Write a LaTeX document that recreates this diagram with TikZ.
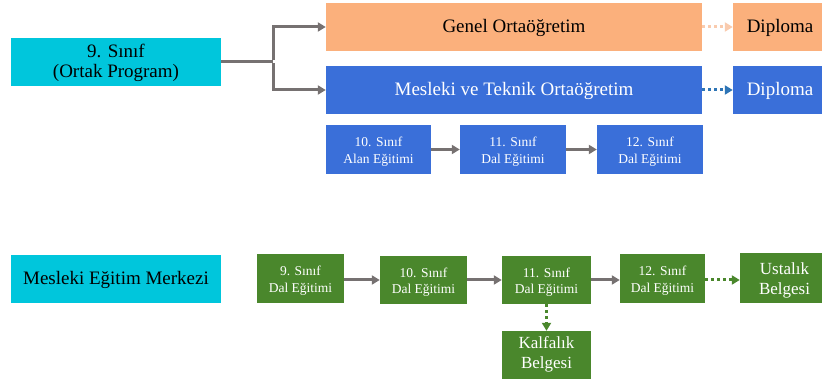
\documentclass[tikz,border=0pt]{standalone}
\usepackage{fontspec}
\setmainfont{Liberation Serif}
\usetikzlibrary{arrows.meta}
\definecolor{cyanbox}{HTML}{00C6DC}
\definecolor{orangebox}{HTML}{FBB07C}
\definecolor{bluebox}{HTML}{3A6FD9}
\definecolor{greenbox}{HTML}{4A872C}
\definecolor{greyline}{HTML}{767171}
\definecolor{orangedot}{HTML}{F9CBAE}
\definecolor{bluedot}{HTML}{2E75B6}
\tikzset{
  box/.style={rectangle, inner sep=0pt, align=center, draw=none},
  % single line, 19pt
  big/.style={font=\fontsize{19}{20}\selectfont, text height=16pt, text depth=4pt},
  % two lines, 19pt (box baseline is the last line)
  bigtwo/.style={font=\fontsize{19}{20}\selectfont, text height=34.6pt, text depth=4pt},
  % two lines, 13.5pt
  small/.style={font=\fontsize{13.5}{16.5}\selectfont, text height=30.9pt, text depth=3.5pt},
  % two lines, 17pt
  mid/.style={font=\fontsize{17}{20.5}\selectfont, text height=37.6pt, text depth=4pt},
  cyanfill/.style={box, fill=cyanbox, text=black},
  orangefill/.style={box, fill=orangebox, text=black},
  bluefill/.style={box, fill=bluebox, text=white},
  greenfill/.style={box, fill=greenbox, text=white},
  garrow/.style={draw=greyline, line width=3pt, -{Triangle[length=8pt,width=9pt]}},
  gline/.style={draw=greyline, line width=3pt},
  darrow/.style={line width=3pt, dash pattern=on 3pt off 3pt, -{Triangle[length=8pt,width=9pt]}},
}
\begin{document}
\begin{tikzpicture}[x=1pt,y=-1pt]
\useasboundingbox (0,0) rectangle (822,379);

% upper part: general and vocational secondary education
\node[cyanfill, bigtwo, minimum width=210pt, minimum height=48pt] (s9) at (116,62) {9. Sınıf\\(Ortak Program)};
\node[orangefill, big, minimum width=376pt, minimum height=48pt] (gen) at (514,27) {Genel Ortaöğretim};
\node[orangefill, big, minimum width=94pt, minimum height=48pt] (dip1) at (780,27) {Diploma};
\node[bluefill, big, minimum width=376pt, minimum height=48pt] (mtk) at (514,90) {Mesleki ve Teknik Ortaöğretim};
\node[bluefill, big, minimum width=94pt, minimum height=48pt] (dip2) at (780,90) {Diploma};

\node[bluefill, small, minimum width=105pt, minimum height=49pt] (a10) at (378.5,149.5) {10. Sınıf\\Alan Eğitimi};
\node[bluefill, small, minimum width=106pt, minimum height=49pt] (a11) at (513,149.5) {11. Sınıf\\Dal Eğitimi};
\node[bluefill, small, minimum width=106pt, minimum height=49pt] (a12) at (650,149.5) {12. Sınıf\\Dal Eğitimi};

\coordinate (br) at (273,62);
\draw[gline] (s9.east) -- (br);
\draw[garrow] ([yshift=1.5pt]br) |- (gen.west);
\draw[garrow] ([yshift=-1.5pt]br) |- (mtk.west);
\draw[darrow, draw=orangedot] (gen.east) -- (dip1.west);
\draw[darrow, draw=bluedot] (mtk.east) -- (dip2.west);
\draw[garrow] (a10.east) -- (a11.west);
\draw[garrow] (a11.east) -- (a12.west);

% lower part: vocational training centre
\node[cyanfill, big, minimum width=210pt, minimum height=48pt] (mem) at (116,279) {Mesleki Eğitim Merkezi};
\node[greenfill, small, minimum width=87pt, minimum height=49pt] (d9) at (300.5,278.5) {9. Sınıf\\Dal Eğitimi};
\node[greenfill, small, minimum width=87pt, minimum height=48pt] (d10) at (423.5,280) {10. Sınıf\\Dal Eğitimi};
\node[greenfill, small, minimum width=89pt, minimum height=48pt] (d11) at (546.5,280) {11. Sınıf\\Dal Eğitimi};
\node[greenfill, small, minimum width=85pt, minimum height=49pt] (d12) at (662.5,278.5) {12. Sınıf\\Dal Eğitimi};
\node[greenfill, mid, minimum width=89pt, minimum height=50pt] (ust) at (784.5,278) {Ustalık\\Belgesi};
\node[greenfill, mid, text height=29pt, minimum width=89pt, minimum height=50pt] (kal) at (546.5,356) {Kalfalık\\Belgesi};

\draw[garrow] (d9.east |- 0,280) -- (d10.west);
\draw[garrow] (d10.east) -- (d11.west);
\draw[garrow] (d11.east) -- (d11.east -| d12.west);
\draw[darrow, draw=greenbox] (d12.east |- 0,280) -- (ust.west |- 0,280);
\draw[darrow, draw=greenbox] (d11.south) -- (kal.north);
\end{tikzpicture}
\end{document}
